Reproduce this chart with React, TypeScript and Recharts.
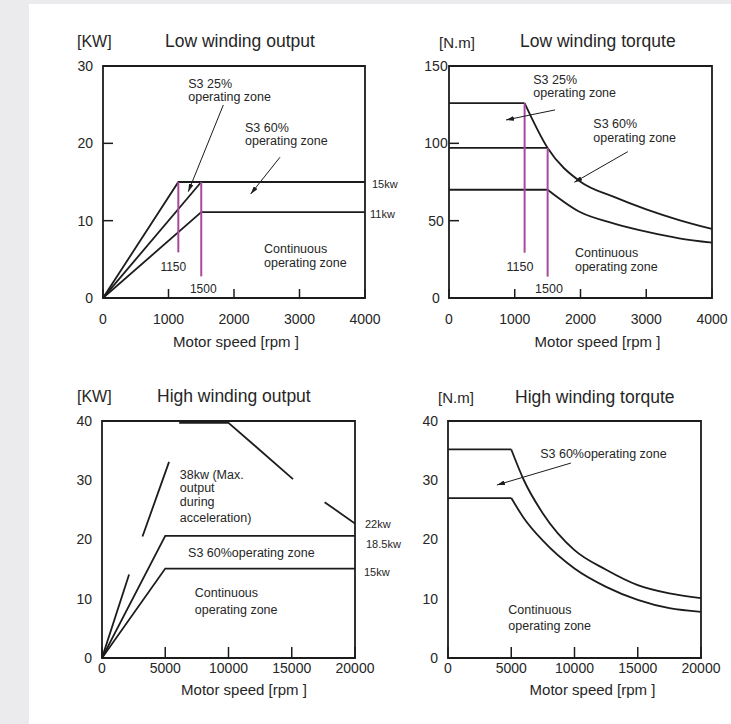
import { Line, LineChart, ReferenceArea, ReferenceDot, ReferenceLine, XAxis, YAxis } from 'recharts';

type Pt = { x: number; y: number | null };

// ---- Low winding output [KW] ----
const lowSpeedTicks = [0, 1000, 2000, 3000, 4000];
const lowOutputTicks = [0, 10, 20, 30];
const lowOutS3x25: Pt[] = [{ x: 0, y: 0 }, { x: 1150, y: 15 }, { x: 4000, y: 15 }];
const lowOutS3x60: Pt[] = [{ x: 0, y: 0 }, { x: 1500, y: 15 }];
const lowOutCont: Pt[] = [{ x: 0, y: 0 }, { x: 1500, y: 11.1 }, { x: 4000, y: 11.1 }];
const lowOutMark1150: Pt[] = [{ x: 1150, y: 15 }, { x: 1150, y: 5.9 }];
const lowOutMark1500: Pt[] = [{ x: 1500, y: 15 }, { x: 1500, y: 2.8 }];

// ---- Low winding torque [N.m] ----
const lowTorqueTicks = [0, 50, 100, 150];
const lowTqS3x25Flat: Pt[] = [{ x: 0, y: 126 }, { x: 1150, y: 126 }];
const lowTqS3x60Flat: Pt[] = [{ x: 0, y: 97 }, { x: 1500, y: 97 }];
const lowTqContFlat: Pt[] = [{ x: 0, y: 70 }, { x: 1500, y: 70 }];
const lowTqS3Curve: Pt[] = [
  { x: 1150, y: 126 }, { x: 1500, y: 97 }, { x: 2000, y: 75.2 }, { x: 2500, y: 65.5 },
  { x: 3000, y: 57.3 }, { x: 3500, y: 50.4 }, { x: 4000, y: 44.6 },
];
const lowTqContCurve: Pt[] = [
  { x: 1500, y: 70 }, { x: 2000, y: 55.4 }, { x: 2500, y: 48.3 }, { x: 3000, y: 42.9 },
  { x: 3500, y: 38.6 }, { x: 4000, y: 35.8 },
];
const lowTqMark1150: Pt[] = [{ x: 1150, y: 126 }, { x: 1150, y: 29.3 }];
const lowTqMark1500: Pt[] = [{ x: 1500, y: 97 }, { x: 1500, y: 13.8 }];

// ---- High winding output [KW] ----
const highSpeedTicks = [0, 5000, 10000, 15000, 20000];
const highOutputTicks = [0, 10, 20, 30, 40];
// broken where the text sits
const highOutMax: Pt[] = [
  { x: 0, y: 0 }, { x: 2140, y: 14.1 }, { x: 2650, y: null }, { x: 3200, y: 20.5 }, { x: 5300, y: 33.1 },
  { x: 5700, y: null }, { x: 6100, y: 39.7 }, { x: 10000, y: 39.7 }, { x: 15100, y: 30.2 },
  { x: 16300, y: null }, { x: 17600, y: 26.3 }, { x: 20000, y: 22.7 },
];
const highOutS3x60: Pt[] = [{ x: 0, y: 0 }, { x: 5000, y: 20.6 }, { x: 20000, y: 20.6 }];
const highOutCont: Pt[] = [{ x: 0, y: 0 }, { x: 5000, y: 15.1 }, { x: 20000, y: 15.1 }];

// ---- High winding torque [N.m] ----
const highTorqueTicks = [0, 10, 20, 30, 40];
const highTqS3Flat: Pt[] = [{ x: 0, y: 35.2 }, { x: 5000, y: 35.2 }];
const highTqContFlat: Pt[] = [{ x: 0, y: 27 }, { x: 5000, y: 27 }];
const highTqS3Curve: Pt[] = [
  { x: 5000, y: 35.2 }, { x: 6000, y: 30 }, { x: 7500, y: 24.4 }, { x: 10000, y: 18.2 },
  { x: 12500, y: 14.9 }, { x: 15000, y: 12.3 }, { x: 17500, y: 10.9 }, { x: 20000, y: 10.1 },
];
const highTqContCurve: Pt[] = [
  { x: 5000, y: 27 }, { x: 6000, y: 23.6 }, { x: 7500, y: 19.8 }, { x: 10000, y: 15.1 },
  { x: 12500, y: 12 }, { x: 15000, y: 9.8 }, { x: 17500, y: 8.4 }, { x: 20000, y: 7.8 },
];

const INK = '#1c1c1c';
const TEXT = '#262626';
const PURPLE = '#a8489f';
const FONT = "'Liberation Sans', Arial, Helvetica, sans-serif";
const tickFont = { fontSize: 14, fill: TEXT };
const tickStroke = { stroke: INK, strokeWidth: 1.5 };

const seg = (data: Pt[], stroke = INK, curved = false) => (
  <Line
    data={data}
    dataKey="y"
    type={curved ? 'monotone' : 'linear'}
    stroke={stroke}
    strokeWidth={stroke === INK ? 1.8 : 2}
    dot={false}
    activeDot={false}
    connectNulls={false}
    isAnimationActive={false}
  />
);

const frame = (xMax: number, yMax: number) => (
  <ReferenceArea x1={0} x2={xMax} y1={0} y2={yMax} fill="none" fillOpacity={0} stroke={INK} strokeWidth={1.8} ifOverflow="visible" />
);

const arrow = (x1: number, y1: number, x2: number, y2: number) => (
  <ReferenceLine
    segment={[{ x: x1, y: y1 }, { x: x2, y: y2 }]}
    stroke={INK}
    strokeWidth={1}
    markerEnd="url(#arrowHead)"
    ifOverflow="visible"
  />
);

type NoteOpts = { size?: number; anchor?: 'start' | 'middle' | 'end'; steps?: number[]; dx?: number; dy?: number };

const noteText = (lines: string[], o: NoteOpts) => (p: any) => {
  const vb = p.viewBox || {};
  const x = (vb.x ?? 0) + (o.dx ?? 0);
  const y = (vb.y ?? 0) + (o.dy ?? 0);
  return (
    <text x={x} y={y} fontSize={o.size ?? 12.5} textAnchor={o.anchor ?? 'start'} fill={TEXT} dominantBaseline="central">
      {lines.map((t, i) => (
        <tspan key={i} x={x} dy={i === 0 ? 0 : o.steps?.[i - 1] ?? 13.5}>
          {t}
        </tspan>
      ))}
    </text>
  );
};

const note = (x: number, y: number, lines: string[], o: NoteOpts = {}) => (
  <ReferenceDot x={x} y={y} r={0} ifOverflow="visible" label={noteText(lines, o)} />
);

const axisTitle = (dx: number, offset: number) => ({
  value: 'Motor speed [rpm ]',
  position: 'insideBottom' as const,
  offset,
  dx,
  fontSize: 15,
  fill: TEXT,
});

const centeredYTick = (cx: number) => (p: any) => (
  <text x={cx} y={p.y} textAnchor="middle" dominantBaseline="central" fontSize={14} fill={TEXT}>
    {p.payload.value}
  </text>
);

const titles = [
  { text: '[KW]', left: 77, top: 42, size: 16 },
  { text: 'Low winding output', left: 165, top: 42, size: 17.5 },
  { text: '[N.m]', left: 439, top: 42, size: 15 },
  { text: 'Low winding torqute', left: 520, top: 42, size: 17.5 },
  { text: '[KW]', left: 77, top: 397, size: 16 },
  { text: 'High winding output', left: 157, top: 397, size: 17.5 },
  { text: '[N.m]', left: 438, top: 397, size: 15 },
  { text: 'High winding torqute', left: 515, top: 398, size: 17.5 },
];

export default function App() {
  return (
    <div style={{ position: 'absolute', left: 0, top: 0, width: 731, height: 724, background: '#ebebed', fontFamily: FONT, overflow: 'hidden' }}>
      <svg width={0} height={0} style={{ position: 'absolute' }}>
        <defs>
          <marker id="arrowHead" viewBox="0 0 10 6" refX={10} refY={3} markerWidth={8} markerHeight={4.8} markerUnits="userSpaceOnUse" orient="auto">
            <path d="M0,0 L10,3 L0,6 z" fill={INK} />
          </marker>
        </defs>
      </svg>
      <div style={{ position: 'absolute', left: 29, top: 4, right: 0, bottom: 0, background: '#ffffff' }} />

      {titles.map((t) => (
        <div
          key={t.text + t.left}
          style={{ position: 'absolute', left: t.left, top: t.top - t.size * 0.5, fontSize: t.size, lineHeight: `${t.size}px`, color: TEXT, whiteSpace: 'nowrap' }}
        >
          {t.text}
        </div>
      ))}

      {/* Low winding output */}
      <div style={{ position: 'absolute', left: 43, top: 26 }}>
        <LineChart width={362} height={328} margin={{ top: 40, right: 40, bottom: 0, left: 0 }}>
          <XAxis dataKey="x" type="number" domain={[0, 4000]} ticks={lowSpeedTicks} interval={0} allowDataOverflow axisLine={false}
            tickLine={tickStroke} tickSize={-9} tickMargin={25} height={56} tick={tickFont} label={axisTitle(2, 6.6)} />
          <YAxis type="number" domain={[0, 30]} ticks={lowOutputTicks} interval={0} allowDataOverflow axisLine={false}
            tickLine={tickStroke} tickSize={-10} tickMargin={20} width={60} tick={tickFont} />
          {frame(4000, 30)}
          {seg(lowOutS3x25)}
          {seg(lowOutS3x60)}
          {seg(lowOutCont)}
          {seg(lowOutMark1150, PURPLE)}
          {seg(lowOutMark1500, PURPLE)}
          {note(1302, 27.7, ['S3 25%', 'operating zone'])}
          {arrow(1837, 24.96, 1302, 13.75)}
          {note(2168, 22.0, ['S3 60%', 'operating zone'])}
          {arrow(2702, 18.2, 2255, 13.45)}
          {note(2458, 6.3, ['Continuous', 'operating zone'])}
          {note(1073, 4.05, ['1150'], { size: 12, anchor: 'middle' })}
          {note(1531, 1.16, ['1500'], { size: 12, anchor: 'middle' })}
          {note(4000, 15, ['15kw'], { size: 11, dx: 7, dy: 1.7 })}
          {note(4000, 11.1, ['11kw'], { size: 11, dx: 5, dy: 1.7 })}
        </LineChart>
      </div>

      {/* Low winding torque */}
      <div style={{ position: 'absolute', left: 389, top: 26 }}>
        <LineChart width={342} height={328} margin={{ top: 40, right: 19, bottom: 0, left: 0 }}>
          <XAxis dataKey="x" type="number" domain={[0, 4000]} ticks={lowSpeedTicks} interval={0} allowDataOverflow axisLine={false}
            tickLine={tickStroke} tickSize={-9} tickMargin={25} height={56} tick={tickFont} label={axisTitle(17, 6.6)} />
          <YAxis type="number" domain={[0, 150]} ticks={lowTorqueTicks} interval={0} allowDataOverflow axisLine={false}
            tickLine={tickStroke} tickSize={-10} tickMargin={23} width={60} tick={centeredYTick(47)} />
          {frame(4000, 150)}
          {seg(lowTqS3x25Flat)}
          {seg(lowTqS3x60Flat)}
          {seg(lowTqContFlat)}
          {seg(lowTqS3Curve, INK, true)}
          {seg(lowTqContCurve, INK, true)}
          {seg(lowTqMark1150, PURPLE)}
          {seg(lowTqMark1500, PURPLE)}
          {note(1282, 141, ['S3 25%', 'operating zone'])}
          {arrow(1612, 121.6, 867, 115.1)}
          {note(2195, 112.5, ['S3 60%', 'operating zone'])}
          {arrow(2718, 94.6, 1906, 74.8)}
          {note(1916, 28.9, ['Continuous', 'operating zone'])}
          {note(1080, 19.8, ['1150'], { size: 12.5, anchor: 'middle' })}
          {note(1521, 5.8, ['1500'], { size: 12.5, anchor: 'middle' })}
        </LineChart>
      </div>

      {/* High winding output */}
      <div style={{ position: 'absolute', left: 42, top: 381 }}>
        <LineChart width={365} height={319} margin={{ top: 40, right: 52, bottom: 0, left: 0 }}>
          <XAxis dataKey="x" type="number" domain={[0, 20000]} ticks={highSpeedTicks} interval={0} allowDataOverflow axisLine={false}
            tickLine={tickStroke} tickSize={-11} tickMargin={16} height={42} tick={tickFont} label={axisTitle(15.5, 4.6)} />
          <YAxis type="number" domain={[0, 40]} ticks={highOutputTicks} interval={0} allowDataOverflow axisLine={false}
            tickLine={false} tickSize={0} tickMargin={10} width={60} tick={tickFont} />
          {frame(20000, 40)}
          {seg(highOutMax)}
          {seg(highOutS3x60)}
          {seg(highOutCont)}
          {note(6150, 30.9, ['38kw (Max.', 'output', 'during', 'acceleration)'], { steps: [13.3, 13.3, 16] })}
          {note(6807, 17.7, ['S3 60%operating zone'])}
          {note(7337, 10.9, ['Continuous', 'operating zone'], { steps: [16.7] })}
          {note(20000, 22.7, ['22kw'], { size: 11, dx: 10, dy: 0 })}
          {note(20000, 20.6, ['18.5kw'], { size: 11, dx: 11, dy: 8 })}
          {note(20000, 15.1, ['15kw'], { size: 11, dx: 9, dy: 3 })}
        </LineChart>
      </div>

      {/* High winding torque */}
      <div style={{ position: 'absolute', left: 388, top: 381 }}>
        <LineChart width={343} height={319} margin={{ top: 40, right: 30, bottom: 0, left: 0 }}>
          <XAxis dataKey="x" type="number" domain={[0, 20000]} ticks={highSpeedTicks} interval={0} allowDataOverflow axisLine={false}
            tickLine={tickStroke} tickSize={-11} tickMargin={16} height={42} tick={tickFont} label={axisTitle(18, 4.6)} />
          <YAxis type="number" domain={[0, 40]} ticks={highTorqueTicks} interval={0} allowDataOverflow axisLine={false}
            tickLine={false} tickSize={0} tickMargin={10} width={60} tick={tickFont} />
          {frame(20000, 40)}
          {seg(highTqS3Flat)}
          {seg(highTqContFlat)}
          {seg(highTqS3Curve, INK, true)}
          {seg(highTqContCurve, INK, true)}
          {note(7288, 34.5, ['S3 60%operating zone'])}
          {arrow(9712, 32.9, 3868, 29.2)}
          {note(4769, 8.1, ['Continuous', 'operating zone'], { steps: [16] })}
        </LineChart>
      </div>
    </div>
  );
}
